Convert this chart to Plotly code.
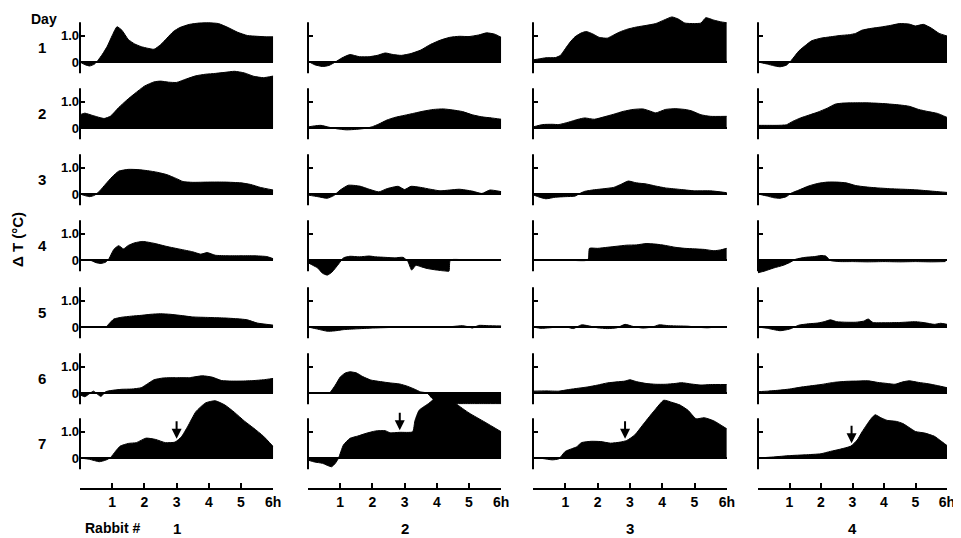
import numpy as np
import plotly.graph_objects as go

# ---------------- data: temperature difference (deg C) vs time (h) ----------------
# Rabbit 1
r1d1_t = [0, 0.15, 0.3, 0.45, 0.55, 0.7, 0.85, 1.0, 1.15, 1.3, 1.5, 1.7, 1.9, 2.1, 2.3, 2.5, 2.7, 2.9, 3.1, 3.4, 3.7, 4.0, 4.3, 4.6, 4.9, 5.2, 5.5, 5.8, 6.0]
r1d1_v = [0, -0.1, -0.15, -0.08, 0.05, 0.3, 0.6, 1.0, 1.33, 1.2, 0.85, 0.68, 0.58, 0.52, 0.48, 0.65, 0.9, 1.15, 1.3, 1.42, 1.47, 1.48, 1.45, 1.3, 1.12, 1.0, 0.97, 0.95, 0.95]
r1d2_t = [0, 0.15, 0.4, 0.75, 0.95, 1.2, 1.45, 1.7, 2.0, 2.3, 2.5, 2.75, 3.0, 3.3, 3.6, 3.9, 4.2, 4.5, 4.8, 5.1, 5.4, 5.7, 6.0]
r1d2_v = [0.5, 0.56, 0.47, 0.36, 0.45, 0.77, 1.05, 1.3, 1.58, 1.74, 1.77, 1.73, 1.72, 1.85, 1.97, 2.03, 2.06, 2.1, 2.14, 2.08, 1.95, 1.9, 1.96]
r1d3_t = [0, 0.15, 0.3, 0.45, 0.6, 0.8, 1.0, 1.2, 1.5, 1.8, 2.1, 2.4, 2.7, 3.0, 3.2, 3.5, 4.0, 4.5, 5.0, 5.3, 5.6, 6.0]
r1d3_v = [0, -0.06, -0.1, -0.05, 0.1, 0.38, 0.65, 0.86, 0.93, 0.92, 0.88, 0.82, 0.73, 0.58, 0.47, 0.44, 0.45, 0.45, 0.42, 0.36, 0.25, 0.15]
r1d4_t = [0, 0.3, 0.5, 0.65, 0.8, 0.9, 1.05, 1.2, 1.35, 1.5, 1.7, 1.95, 2.3, 2.7, 3.1, 3.5, 3.75, 3.95, 4.2, 4.6, 5.0, 5.4, 5.8, 6.0]
r1d4_v = [0, 0, -0.1, -0.13, -0.08, 0.05, 0.4, 0.54, 0.42, 0.55, 0.65, 0.7, 0.63, 0.51, 0.41, 0.31, 0.22, 0.28, 0.18, 0.16, 0.16, 0.16, 0.13, 0.05]
r1d5_t = [0, 0.8, 0.9, 1.05, 1.3, 1.6, 1.9, 2.2, 2.5, 2.8, 3.1, 3.5, 4.0, 4.5, 5.0, 5.2, 5.5, 5.8, 6.0]
r1d5_v = [0, 0, 0.12, 0.3, 0.37, 0.41, 0.44, 0.48, 0.5, 0.48, 0.44, 0.38, 0.36, 0.34, 0.3, 0.27, 0.15, 0.1, 0.07]
r1d6_t = [0, 0.15, 0.3, 0.42, 0.55, 0.65, 0.8, 1.0, 1.3, 1.6, 1.9, 2.1, 2.3, 2.6, 3.0, 3.4, 3.8, 4.1, 4.4, 4.7, 5.0, 5.4, 5.7, 6.0]
r1d6_v = [-0.07, -0.14, -0.02, 0.07, -0.05, -0.13, 0.05, 0.1, 0.14, 0.15, 0.2, 0.35, 0.5, 0.57, 0.58, 0.58, 0.65, 0.6, 0.47, 0.45, 0.45, 0.47, 0.5, 0.55]
r1d7_t = [0, 0.3, 0.6, 0.8, 0.95, 1.1, 1.25, 1.5, 1.75, 2.05, 2.35, 2.65, 2.95, 3.15, 3.35, 3.6, 3.9, 4.2, 4.5, 4.8, 5.1, 5.4, 5.7, 6.0]
r1d7_v = [0, -0.05, -0.14, -0.08, 0.02, 0.25, 0.45, 0.55, 0.58, 0.75, 0.7, 0.58, 0.6, 0.8, 1.2, 1.75, 2.08, 2.16, 2.0, 1.72, 1.4, 1.12, 0.82, 0.43]

# Rabbit 2
r2d1_t = [0, 0.2, 0.45, 0.65, 0.85, 1.05, 1.3, 1.6, 1.9, 2.15, 2.4, 2.65, 2.9, 3.2, 3.5, 3.8, 4.1, 4.4, 4.7, 5.0, 5.3, 5.55, 5.8, 6.0]
r2d1_v = [0.03, -0.1, -0.17, -0.13, 0.0, 0.15, 0.28, 0.2, 0.2, 0.25, 0.34, 0.28, 0.25, 0.32, 0.45, 0.66, 0.82, 0.93, 0.97, 0.96, 1.02, 1.1, 1.05, 0.93]
r2d2_t = [0, 0.2, 0.4, 0.65, 0.9, 1.2, 1.5, 1.8, 2.0, 2.2, 2.45, 2.7, 3.0, 3.3, 3.6, 3.9, 4.2, 4.5, 4.8, 5.1, 5.4, 5.7, 6.0]
r2d2_v = [0.04, 0.08, 0.1, 0.03, -0.03, -0.07, -0.05, -0.01, 0.05, 0.15, 0.3, 0.4, 0.48, 0.56, 0.64, 0.7, 0.72, 0.68, 0.62, 0.5, 0.42, 0.38, 0.33]
r2d3_t = [0, 0.3, 0.6, 0.8, 1.0, 1.25, 1.6, 1.9, 2.2, 2.45, 2.8, 3.0, 3.2, 3.5, 3.8, 4.1, 4.4, 4.7, 5.1, 5.4, 5.65, 6.0]
r2d3_v = [-0.04, -0.1, -0.16, -0.06, 0.15, 0.33, 0.3, 0.18, 0.08, 0.2, 0.29, 0.17, 0.29, 0.25, 0.18, 0.12, 0.15, 0.18, 0.11, 0.02, 0.15, 0.09]
r2d4_t = [0, 0.15, 0.3, 0.45, 0.6, 0.75, 0.95, 1.1, 1.3, 1.6, 1.9, 2.1, 2.4, 2.7, 2.95, 3.1, 3.22, 3.35, 3.5, 3.7, 4.0, 4.3, 4.38, 4.42, 5.0, 6.0]
r2d4_v = [-0.1, -0.2, -0.3, -0.5, -0.57, -0.45, -0.15, 0.08, 0.14, 0.12, 0.15, 0.12, 0.1, 0.08, 0.1, -0.05, -0.38, -0.2, -0.25, -0.32, -0.38, -0.42, -0.42, 0, 0, 0]
r2d5_t = [0, 0.3, 0.6, 0.8, 1.1, 1.5, 2.0, 2.5, 3.0, 3.5, 4.0, 4.5, 4.8, 5.0, 5.1, 5.3, 5.6, 6.0]
r2d5_v = [0, -0.08, -0.16, -0.15, -0.1, -0.07, -0.04, -0.02, -0.01, 0, 0, 0.02, 0.05, 0.0, -0.04, 0.06, 0.05, 0.04]
r2d6_t = [0, 0.5, 0.68, 0.85, 1.0, 1.15, 1.3, 1.5, 1.7, 1.95, 2.25, 2.55, 2.85, 3.1, 3.3, 3.5, 3.7, 3.85, 4.05, 4.5, 5.0, 5.5, 6.0]
r2d6_v = [0, 0, 0.02, 0.3, 0.6, 0.75, 0.8, 0.76, 0.62, 0.49, 0.43, 0.38, 0.34, 0.25, 0.15, 0.04, 0.0, -0.2, -0.4, -0.4, -0.4, -0.4, -0.4]
r2d7_t = [0, 0.2, 0.45, 0.73, 0.85, 0.95, 1.1, 1.3, 1.55, 1.8, 2.1, 2.4, 2.55, 2.85, 3.25, 3.32, 3.45, 3.75, 4.0, 4.3, 4.6, 5.0, 5.5, 6.0]
r2d7_v = [-0.08, -0.15, -0.2, -0.33, -0.2, 0.0, 0.49, 0.74, 0.83, 0.93, 1.02, 1.03, 0.95, 0.97, 0.99, 1.4, 1.8, 2.06, 2.3, 2.4, 2.05, 1.7, 1.35, 0.99]

# Rabbit 3
r3d1_t = [0, 0.2, 0.4, 0.7, 0.85, 1.0, 1.15, 1.3, 1.5, 1.65, 1.85, 2.05, 2.3, 2.5, 2.7, 2.9, 3.2, 3.5, 3.8, 4.05, 4.3, 4.5, 4.7, 5.0, 5.2, 5.35, 5.6, 5.8, 6.0]
r3d1_v = [0.08, 0.12, 0.16, 0.17, 0.25, 0.5, 0.75, 0.95, 1.1, 1.15, 1.06, 0.93, 0.9, 1.02, 1.14, 1.23, 1.32, 1.38, 1.45, 1.58, 1.7, 1.62, 1.47, 1.45, 1.47, 1.67, 1.58, 1.52, 1.48]
r3d2_t = [0, 0.3, 0.6, 0.8, 1.1, 1.4, 1.6, 1.9, 2.2, 2.5, 2.8, 3.1, 3.4, 3.6, 3.8, 4.1, 4.4, 4.7, 4.9, 5.2, 5.5, 6.0]
r3d2_v = [0.04, 0.13, 0.14, 0.13, 0.22, 0.33, 0.38, 0.33, 0.42, 0.52, 0.63, 0.7, 0.72, 0.65, 0.57, 0.7, 0.73, 0.7, 0.65, 0.5, 0.44, 0.44]
r3d3_t = [0, 0.2, 0.4, 0.7, 1.0, 1.3, 1.45, 1.6, 1.9, 2.2, 2.5, 2.75, 2.95, 3.2, 3.5, 3.8, 4.1, 4.5, 5.0, 5.5, 6.0]
r3d3_v = [-0.03, -0.12, -0.18, -0.12, -0.1, -0.08, 0.02, 0.1, 0.16, 0.2, 0.25, 0.38, 0.49, 0.42, 0.38, 0.3, 0.23, 0.18, 0.12, 0.12, 0.05]
r3d4_t = [0, 1.0, 1.7, 1.75, 2.0, 2.3, 2.6, 2.9, 3.2, 3.5, 3.8, 4.1, 4.4, 4.7, 5.0, 5.3, 5.6, 5.8, 6.0]
r3d4_v = [0, 0, 0, 0.44, 0.44, 0.48, 0.52, 0.56, 0.57, 0.62, 0.6, 0.55, 0.48, 0.44, 0.42, 0.4, 0.35, 0.38, 0.44]
r3d5_t = [0, 0.25, 0.5, 0.8, 1.1, 1.25, 1.5, 1.7, 2.0, 2.3, 2.6, 2.85, 3.1, 3.4, 3.7, 3.9, 4.2, 4.5, 4.8, 5.1, 5.4, 5.7, 6.0]
r3d5_v = [0, -0.05, -0.03, 0, -0.02, -0.06, 0.08, 0.05, -0.03, -0.06, -0.03, 0.1, 0.02, -0.04, 0.0, 0.08, 0.05, 0.04, 0.03, -0.01, -0.03, 0.0, -0.01]
r3d6_t = [0, 0.4, 0.8, 1.1, 1.4, 1.7, 2.0, 2.3, 2.6, 2.85, 3.0, 3.2, 3.5, 3.8, 4.1, 4.4, 4.6, 4.9, 5.2, 5.5, 6.0]
r3d6_v = [0.07, 0.08, 0.07, 0.13, 0.18, 0.23, 0.3, 0.38, 0.42, 0.45, 0.5, 0.43, 0.36, 0.33, 0.33, 0.36, 0.39, 0.34, 0.3, 0.32, 0.32]
r3d7_t = [0, 0.3, 0.6, 0.8, 1.0, 1.2, 1.35, 1.5, 1.8, 2.1, 2.4, 2.7, 2.9, 3.15, 3.45, 3.75, 4.05, 4.3, 4.55, 4.8, 5.05, 5.3, 5.6, 6.0]
r3d7_v = [0, -0.02, -0.07, -0.03, 0.25, 0.35, 0.42, 0.58, 0.63, 0.62, 0.56, 0.6, 0.66, 0.87, 1.33, 1.78, 2.18, 2.1, 2.0, 1.8, 1.48, 1.52, 1.4, 1.1]

# Rabbit 4
r4d1_t = [0, 0.3, 0.5, 0.7, 0.9, 1.05, 1.3, 1.5, 1.7, 2.0, 2.3, 2.6, 2.9, 3.1, 3.3, 3.6, 3.9, 4.2, 4.5, 4.8, 5.0, 5.25, 5.5, 5.75, 6.0]
r4d1_v = [0, -0.08, -0.14, -0.18, -0.12, 0.05, 0.42, 0.62, 0.8, 0.9, 0.95, 1.0, 1.03, 1.08, 1.2, 1.27, 1.32, 1.38, 1.45, 1.43, 1.36, 1.42, 1.28, 1.08, 0.98]
r4d2_t = [0, 0.3, 0.6, 0.9, 1.1, 1.35, 1.6, 1.9, 2.2, 2.45, 2.7, 3.0, 3.5, 4.0, 4.5, 4.8, 5.1, 5.4, 5.7, 6.0]
r4d2_v = [0.1, 0.1, 0.1, 0.12, 0.25, 0.38, 0.48, 0.6, 0.75, 0.9, 0.94, 0.95, 0.95, 0.92, 0.87, 0.82, 0.7, 0.62, 0.55, 0.4]
r4d3_t = [0, 0.3, 0.5, 0.7, 0.9, 1.05, 1.3, 1.6, 1.9, 2.2, 2.5, 2.8, 3.1, 3.4, 3.8, 4.2, 4.6, 5.0, 5.4, 5.8, 6.0]
r4d3_v = [0, -0.08, -0.14, -0.16, -0.1, 0.03, 0.15, 0.3, 0.4, 0.45, 0.45, 0.42, 0.32, 0.27, 0.23, 0.2, 0.18, 0.16, 0.12, 0.08, 0.06]
r4d4_t = [0, 0.2, 0.5, 0.8, 1.0, 1.2, 1.5, 1.8, 2.0, 2.15, 2.3, 2.6, 3.0, 3.5, 4.0, 4.5, 5.0, 5.5, 5.95]
r4d4_v = [-0.48, -0.42, -0.3, -0.2, -0.1, 0.03, 0.1, 0.13, 0.17, 0.15, -0.02, -0.06, -0.06, -0.07, -0.06, -0.07, -0.06, -0.07, -0.06]
r4d5_t = [0, 0.3, 0.7, 1.0, 1.3, 1.6, 1.9, 2.1, 2.3, 2.5, 2.8, 3.1, 3.35, 3.5, 3.65, 4.0, 4.5, 5.0, 5.3, 5.6, 5.8, 6.0]
r4d5_v = [0, -0.05, -0.14, -0.08, 0.07, 0.12, 0.15, 0.2, 0.27, 0.2, 0.18, 0.18, 0.22, 0.3, 0.17, 0.16, 0.17, 0.2, 0.16, 0.1, 0.14, 0.1]
r4d6_t = [0, 0.3, 0.7, 1.0, 1.3, 1.6, 2.0, 2.4, 2.8, 3.1, 3.5, 3.8, 4.1, 4.35, 4.6, 4.8, 5.1, 5.4, 5.7, 6.0]
r4d6_v = [0.05, 0.07, 0.11, 0.15, 0.21, 0.26, 0.32, 0.4, 0.44, 0.45, 0.46, 0.4, 0.36, 0.33, 0.42, 0.46, 0.4, 0.35, 0.28, 0.2]
r4d7_t = [0, 0.5, 1.0, 1.5, 2.0, 2.3, 2.6, 2.95, 3.15, 3.3, 3.45, 3.6, 3.72, 3.9, 4.1, 4.4, 4.6, 4.8, 5.0, 5.3, 5.6, 5.8, 6.0]
r4d7_v = [0, 0.04, 0.09, 0.12, 0.16, 0.25, 0.33, 0.45, 0.68, 0.98, 1.25, 1.5, 1.63, 1.52, 1.42, 1.38, 1.3, 1.15, 1.0, 0.94, 0.82, 0.65, 0.47]

rabbit_labels = ["1", "2", "3", "4"]
day_labels = ["1", "2", "3", "4", "5", "6", "7"]
y_tick_vals = [0, 1]
y_tick_text = ["0", "1.0"]
x_tick_vals = [1, 2, 3, 4, 5, 6]
x_tick_text = ["1", "2", "3", "4", "5", "6h"]
arrow_hours = [3.0, 2.85, 2.85, 2.97]   # injection time marked on day 7

panels = [
    [(r1d1_t, r1d1_v), (r1d2_t, r1d2_v), (r1d3_t, r1d3_v), (r1d4_t, r1d4_v), (r1d5_t, r1d5_v), (r1d6_t, r1d6_v), (r1d7_t, r1d7_v)],
    [(r2d1_t, r2d1_v), (r2d2_t, r2d2_v), (r2d3_t, r2d3_v), (r2d4_t, r2d4_v), (r2d5_t, r2d5_v), (r2d6_t, r2d6_v), (r2d7_t, r2d7_v)],
    [(r3d1_t, r3d1_v), (r3d2_t, r3d2_v), (r3d3_t, r3d3_v), (r3d4_t, r3d4_v), (r3d5_t, r3d5_v), (r3d6_t, r3d6_v), (r3d7_t, r3d7_v)],
    [(r4d1_t, r4d1_v), (r4d2_t, r4d2_v), (r4d3_t, r4d3_v), (r4d4_t, r4d4_v), (r4d5_t, r4d5_v), (r4d6_t, r4d6_v), (r4d7_t, r4d7_v)],
]
for col in panels:
    for t, v in col:
        assert len(t) == len(v), (len(t), len(v))

# ---------------- layout geometry (window pixels) ----------------
# The page body has an 8 px margin, so the figure is drawn 8 px in from the window corner.
OFF = 8
W, H = 961 - OFF, 538 - OFF
COL_X0 = [80, 308, 533, 758]
COL_PX_PER_H = [32.2, 32.2, 32.3, 31.5]
ROW_ZERO = [62, 128, 194, 260, 327, 393, 458]
UNIT = 26.5
LO = -1.15
FONT_FAMILY = "Liberation Sans"


def px(xw):
    return (xw - OFF) / W


def py(yw):
    return 1 - (yw - OFF) / H


def label_font(size):
    return dict(size=size, family=FONT_FAMILY, color="black", weight="bold")


fig = go.Figure()
layout = {}
shapes = []
annotations = []

for c in range(4):
    for r in range(7):
        i = r * 4 + c + 1
        xa = "x" if i == 1 else f"x{i}"
        ya = "y" if i == 1 else f"y{i}"
        xkey = "xaxis" if i == 1 else f"xaxis{i}"
        ykey = "yaxis" if i == 1 else f"yaxis{i}"
        t, v = panels[c][r]
        fig.add_trace(go.Scatter(
            x=t, y=v, xaxis=xa, yaxis=ya, mode="lines", fill="tozeroy",
            fillcolor="black", line=dict(color="black", width=1, shape="spline", smoothing=0.5),
            hoverinfo="skip", showlegend=False))

        x0 = COL_X0[c]
        x1 = x0 + 6 * COL_PX_PER_H[c]
        z = ROW_ZERO[r]
        hi = min(2.6, (z - OFF - 1) / UNIT)
        top = z - hi * UNIT
        bot = z - LO * UNIT

        xaxis = dict(domain=[px(x0), px(x1)], range=[0, 6], anchor=ya, automargin=False,
                     showgrid=False, zeroline=False, fixedrange=True)
        if r == 6:
            xaxis.update(showline=True, linecolor="black", linewidth=2,
                         ticks="inside", ticklen=5, tickwidth=1.5, tickcolor="black",
                         tickvals=x_tick_vals, ticktext=x_tick_text,
                         tickfont=label_font(14))
        else:
            xaxis.update(visible=False)
        layout[xkey] = xaxis

        layout[ykey] = dict(
            domain=[py(bot), py(top)], range=[LO, hi], anchor=xa, automargin=False,
            showgrid=False, showline=False, zeroline=True, zerolinecolor="black",
            zerolinewidth=1.5, ticks="inside", ticklen=5, tickwidth=1.5, tickcolor="black",
            tickvals=y_tick_vals, ticktext=y_tick_text, showticklabels=(c == 0),
            tickfont=label_font(13), fixedrange=True)

        # short vertical axis segment of each panel
        shapes.append(dict(type="line", xref="paper", yref="paper",
                           x0=px(x0), x1=px(x0),
                           y0=py(z + 0.42 * UNIT), y1=py(z - 1.5 * UNIT),
                           line=dict(color="black", width=2)))

        if c == 0:
            annotations.append(dict(text=day_labels[r], xref="paper", yref=ya,
                                    x=px(42), y=0.53, xanchor="center", yanchor="middle",
                                    showarrow=False, font=label_font(15)))
        if r == 6:
            annotations.append(dict(text=rabbit_labels[c], xref=xa, yref="paper",
                                    x=3, y=py(528), xanchor="center", yanchor="middle",
                                    showarrow=False, font=label_font(15)))
            ah = arrow_hours[c]
            annotations.append(dict(text="", xref=xa, yref=ya, x=ah,
                                    y=float(np.interp(ah, t, v)) + 0.08,
                                    showarrow=True, ax=0, ay=-19, arrowhead=2,
                                    arrowsize=1, arrowwidth=2, arrowcolor="black", standoff=0))

annotations.append(dict(text="Day", xref="paper", yref="paper", x=px(44), y=py(19),
                        xanchor="center", yanchor="middle", showarrow=False, font=label_font(14)))
annotations.append(dict(text="Δ T (°C)", xref="paper", yref="paper", x=px(17), y=py(240),
                        xanchor="center", yanchor="middle", showarrow=False, textangle=-90,
                        font=label_font(15)))
annotations.append(dict(text="Rabbit #", xref="paper", yref="paper", x=px(112), y=py(528),
                        xanchor="center", yanchor="middle", showarrow=False, font=label_font(14)))

fig.update_layout(
    template="none",
    width=W, height=H, autosize=False,
    margin=dict(l=0, r=0, t=0, b=0, pad=0),
    paper_bgcolor="white", plot_bgcolor="rgba(0,0,0,0)",
    font=dict(family=FONT_FAMILY, size=14, color="black"),
    showlegend=False, shapes=shapes, annotations=annotations,
    **layout)

fig.write_html("out.html", config={"displayModeBar": False})
